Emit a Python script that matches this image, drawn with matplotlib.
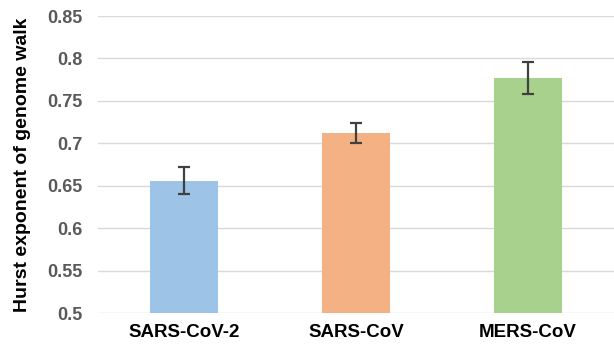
import matplotlib as mpl
import matplotlib.pyplot as plt

mpl.rcParams["font.family"] = ["Liberation Sans", "DejaVu Sans"]

categories = ["SARS-CoV-2", "SARS-CoV", "MERS-CoV"]
hurst = [0.656, 0.712, 0.777]
hurst_err = [0.016, 0.012, 0.019]
bar_colors = ["#9dc3e6", "#f4b183", "#a9d18e"]
yticks = [0.5, 0.55, 0.6, 0.65, 0.7, 0.75, 0.8, 0.85]
ytick_labels = ["0.5", "0.55", "0.6", "0.65", "0.7", "0.75", "0.8", "0.85"]

fig = plt.figure(figsize=(6.14, 3.46), dpi=100)
ax = fig.add_axes([98 / 614, 1 - 313 / 346, 1 - 98 / 614, (313 - 16) / 346])

x = range(len(categories))
ax.bar(x, hurst, width=0.4, color=bar_colors, zorder=2,
       yerr=hurst_err, ecolor="#404040", capsize=4,
       error_kw={"elinewidth": 1.6, "capthick": 1.6})

ax.set_ylim(0.5, 0.85)
ax.set_xlim(-0.5, 2.5)
ax.set_yticks(yticks)
ax.set_yticklabels(ytick_labels)
ax.set_xticks(list(x))
ax.set_xticklabels(categories)

ax.yaxis.grid(True, color="#d9d9d9", linewidth=1.0, zorder=0)
ax.set_axisbelow(True)
for s in ax.spines.values():
    s.set_visible(False)
ax.tick_params(length=0)
ax.tick_params(axis="y", labelsize=13, labelcolor="#595959", pad=11)
ax.tick_params(axis="x", labelsize=13.5, pad=8)
for lbl in ax.get_yticklabels():
    lbl.set_fontweight("bold")
for lbl in ax.get_xticklabels():
    lbl.set_fontweight("bold")

ax.set_ylabel("Hurst exponent of genome walk", fontsize=14, fontweight="bold", labelpad=12)

fig.savefig("out.png", dpi=100)
